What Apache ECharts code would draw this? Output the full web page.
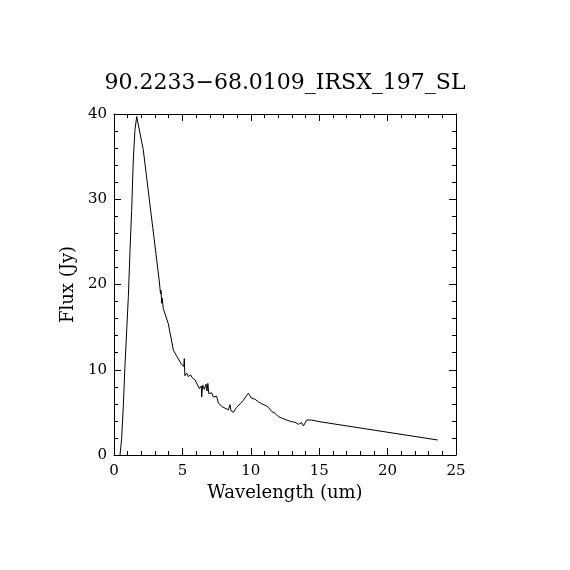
<!DOCTYPE html>
<html><head><meta charset="utf-8">
<script src="https://cdn.jsdelivr.net/npm/echarts@6/dist/echarts.min.js"></script>
<style>html,body{margin:0;padding:0;background:#fff}#c{width:570px;height:570px}</style>
</head><body><div id="c"></div>
<script>
var titleText = '90.2233\u221268.0109_IRSX_197_SL';
var xName = 'Wavelength (um)';
var yName = 'Flux (Jy)';
var xTicks = [0, 5, 10, 15, 20, 25];
var yTicks = [0, 10, 20, 30, 40];
var wavelength = [0.44,0.56,0.68,0.80,0.93,1.05,1.17,1.29,1.41,1.53,
  1.66,2.14,3.31,3.40,3.44,3.48,3.52,3.60,3.97,4.34,
  4.58,4.95,5.10,5.14,5.18,5.31,5.43,5.60,5.70,5.80,
  5.92,6.04,6.24,6.38,6.41,6.48,6.60,6.73,6.80,6.86,
  6.93,7.02,7.14,7.26,7.38,7.50,7.63,7.87,8.11,8.36,
  8.45,8.48,8.55,8.72,8.97,9.21,9.45,9.70,9.82,10.06,
  10.30,10.55,10.80,11.04,11.28,11.53,11.77,12.01,12.30,12.62,
  12.99,13.23,13.48,13.72,13.85,13.96,14.08,14.45,15.06,23.66];
var flux = [0.0,1.95,5.7,10.4,14.7,18.6,24.0,28.7,34.6,38.1,
  39.7,35.8,20.4,18.9,19.3,17.8,18.4,17.2,15.4,12.3,
  11.6,10.6,10.4,11.3,9.3,9.6,9.2,9.4,9.1,9.0,
  8.8,8.6,7.8,8.1,6.8,8.2,7.7,8.3,7.5,8.4,
  7.2,7.0,7.3,6.8,6.6,6.9,6.1,5.7,5.5,5.3,
  5.2,5.9,5.2,5.0,5.6,6.0,6.4,7.0,7.25,6.65,
  6.55,6.25,6.0,5.85,5.6,5.1,4.9,4.5,4.3,4.1,
  3.9,3.85,3.6,3.8,3.4,3.45,4.1,4.1,3.9,1.76];

var pts = wavelength.map(function(w, i){ return [w, flux[i]]; });
var font = 'DejaVu Serif';
var axLine = {show:true, onZero:false, lineStyle:{color:'#000', width:1}};
function xAx(pos, labels){
  return {type:'value', position:pos, min:xTicks[0], max:xTicks[xTicks.length-1], interval:5,
    name: labels ? xName : '', nameLocation:'middle', nameGap:26,
    nameTextStyle:{fontFamily:font, fontSize:18, color:'#000'},
    axisLine:axLine, axisTick:{show:true, inside:true, length:7, lineStyle:{color:'#000'}},
    minorTick:{show:true, splitNumber:5, length:4, lineStyle:{color:'#000'}},
    axisLabel:{show:labels, fontFamily:font, fontSize:15, color:'#000', margin:9},
    splitLine:{show:false}};
}
function yAx(pos, labels){
  return {type:'value', position:pos, min:yTicks[0], max:yTicks[yTicks.length-1], interval:10,
    name: labels ? yName : '', nameLocation:'middle', nameGap:31,
    nameTextStyle:{fontFamily:font, fontSize:18, color:'#000'},
    axisLine:axLine, axisTick:{show:true, inside:true, length:7, lineStyle:{color:'#000'}},
    minorTick:{show:true, splitNumber:5, length:4, lineStyle:{color:'#000'}},
    axisLabel:{show:labels, fontFamily:font, fontSize:15, color:'#000', margin:7},
    splitLine:{show:false}};
}
var chart = echarts.init(document.getElementById('c'), null, {renderer:'canvas'});
chart.setOption({
  backgroundColor:'#fff',
  animation:false,
  title:{text:titleText, left:'center', top:67, textStyle:{fontFamily:font, fontSize:22, fontWeight:'normal', color:'#000'}},
  grid:{left:114, right:114, top:114, bottom:115},
  xAxis:[xAx('bottom', true), xAx('top', false)],
  yAxis:[yAx('left', true), yAx('right', false)],
  series:[{type:'line', data:pts, showSymbol:false, symbol:'none', lineStyle:{color:'#000', width:1}, xAxisIndex:0, yAxisIndex:0}]
});
</script></body></html>
